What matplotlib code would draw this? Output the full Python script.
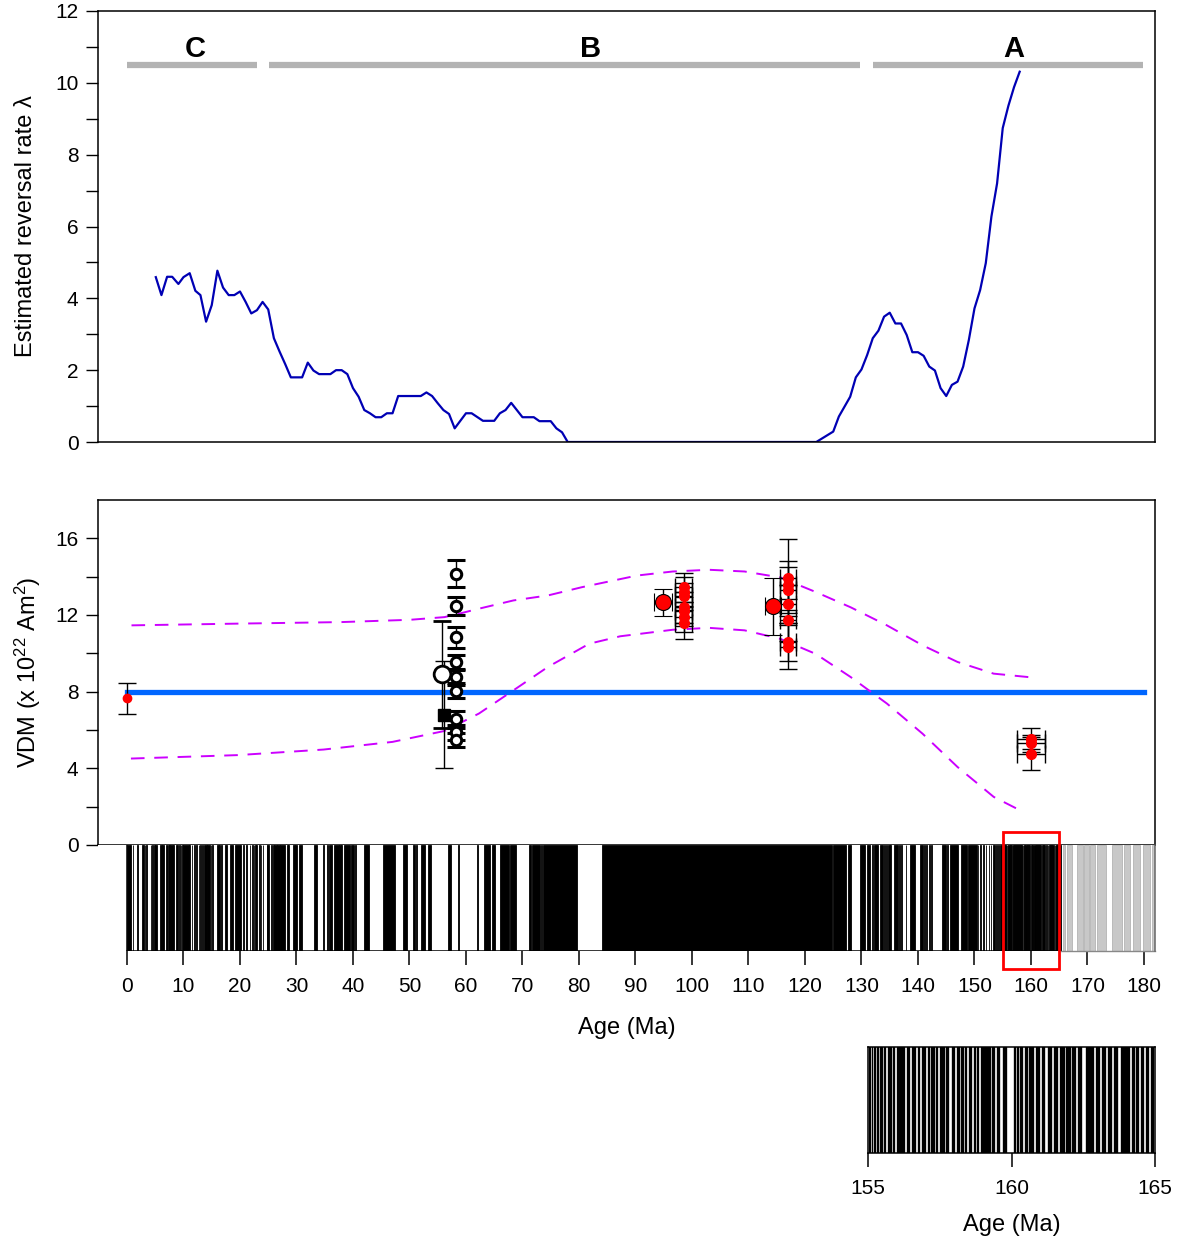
import matplotlib
matplotlib.use('Agg')
import matplotlib.pyplot as plt
from matplotlib.patches import Rectangle
from matplotlib.ticker import MultipleLocator, FixedLocator

plt.rcParams['font.family'] = ['Liberation Sans', 'DejaVu Sans']
plt.rcParams['mathtext.fontset'] = 'custom'
plt.rcParams['mathtext.rm'] = 'Liberation Sans'
plt.rcParams['mathtext.it'] = 'Liberation Sans:italic'

# --- top panel: estimated reversal rate ---
rate_age = [5.1, 6.1, 7.1, 8.0, 9.1, 10.0, 11.1, 12.1, 13.0, 14.0, 15.0, 16.0, 17.0, 18.0,
            19.0, 20.0, 21.0, 22.0, 23.0, 24.0, 25.0, 26.0, 27.0, 28.0, 29.0, 31.0, 32.0,
            33.0, 34.0, 36.0, 37.0, 38.0, 39.0, 40.0, 41.0, 42.0, 43.0, 44.0, 45.0, 46.0,
            47.0, 48.0, 52.0, 53.0, 54.0, 55.0, 56.0, 57.0, 58.0, 60.0, 61.0, 63.0, 65.0,
            66.0, 67.0, 68.0, 69.0, 70.0, 72.0, 73.0, 75.0, 76.0, 77.0, 78.0, 122.0, 125.0,
            126.0, 128.0, 129.0, 130.0, 131.0, 132.0, 133.0, 134.0, 135.0, 136.0, 137.0,
            138.0, 139.0, 140.0, 141.0, 142.0, 143.0, 144.0, 145.0, 146.0, 147.0, 148.0,
            149.0, 150.0, 151.0, 152.0, 153.0, 154.0, 155.0, 156.0, 157.0, 158.0]
rate_val = [4.59, 4.09, 4.6, 4.6, 4.4, 4.59, 4.7, 4.21, 4.09, 3.35, 3.81, 4.77, 4.3, 4.09,
            4.09, 4.19, 3.9, 3.58, 3.67, 3.9, 3.69, 2.89, 2.52, 2.17, 1.8, 1.8, 2.21,
            1.99, 1.89, 1.89, 2.0, 2.0, 1.89, 1.5, 1.26, 0.89, 0.8, 0.69, 0.69, 0.8,
            0.8, 1.28, 1.28, 1.38, 1.28, 1.08, 0.89, 0.78, 0.38, 0.8, 0.8, 0.59, 0.59,
            0.8, 0.89, 1.09, 0.89, 0.69, 0.69, 0.58, 0.58, 0.38, 0.27, 0.0, 0.0, 0.29,
            0.71, 1.26, 1.8, 2.02, 2.42, 2.89, 3.1, 3.49, 3.6, 3.3, 3.3,
            2.98, 2.5, 2.5, 2.4, 2.1, 1.99, 1.5, 1.28, 1.59, 1.68, 2.1,
            2.84, 3.72, 4.23, 4.98, 6.28, 7.2, 8.74, 9.36, 9.88, 10.31]

seg_names = ['C', 'B', 'A']
seg_start = [0.0, 25.1, 132.0]
seg_end = [23.0, 129.7, 179.8]
seg_mid = [12.0, 82.0, 157.0]

# --- bottom panel: VDM data ---
vdm_mean = 8.0
upper_age = [0.8, 19.6, 37.9, 50.1, 56.2, 59.2, 62.3, 68.4, 74.5, 80.5, 90.3, 96.6, 103.0,
             109.3, 115.6, 121.9, 128.1, 134.5, 140.8, 147.0, 153.4, 160.6]
upper_val = [11.46, 11.55, 11.63, 11.75, 11.89, 12.1, 12.33, 12.76, 13.02, 13.45, 14.06,
             14.27, 14.36, 14.27, 13.96, 13.2, 12.4, 11.46, 10.42, 9.55, 8.94, 8.73]
lower_age = [0.7, 19.6, 34.8, 47.0, 56.2, 62.3, 68.4, 74.5, 81.8, 87.3, 96.6, 103.0,
             109.3, 115.6, 121.9, 128.1, 134.5, 140.8, 147.0, 153.4, 158.8]
lower_val = [4.51, 4.69, 4.98, 5.38, 5.95, 6.86, 8.07, 9.29, 10.5, 10.89, 11.23, 11.33,
             11.2, 10.76, 9.97, 8.76, 7.38, 5.81, 4.07, 2.51, 1.70]

# open circles near 58 Ma
open_age = 58.2
open_vdm = [14.15, 12.47, 10.85, 9.55, 8.75, 8.05, 6.56, 5.87, 5.47]
open_err = [0.7, 0.45, 0.55, 0.35, 0.4, 0.4, 0.45, 0.4, 0.35]
# large open circle and black square
big_open = (55.8, 8.9, 2.8)
square = (56.1, 6.8, 2.8)
# present-day red dot
present = (0.0, 7.66, 0.8)
# large red circles (age, vdm, age err, vdm err)
big_red_age = [94.9, 114.3]
big_red_vdm = [12.66, 12.45]
big_red_xerr = [1.6, 1.4]
big_red_yerr = [0.7, 1.5]
# red clusters
red98_vdm = [13.45, 13.2, 12.97, 12.4, 12.2, 11.9, 11.6]
red98_err = [0.75, 0.8, 0.7, 0.8, 0.75, 0.8, 0.85]
red117_vdm = [13.94, 13.54, 13.28, 12.59, 11.75, 10.59, 10.33]
red117_err = [2.0, 1.3, 1.2, 1.0, 1.1, 1.0, 1.15]
red160_vdm = [5.55, 5.3, 4.77]
red160_err = [0.53, 0.45, 0.87]

# --- polarity timescale: normal intervals (young, old), Ma ---
chrons_0_45 = [(0.00, 0.78), (0.99, 1.07), (1.77, 1.95), (2.58, 3.04), (3.11, 3.22), (3.33, 3.58),
               (4.18, 4.29), (4.48, 4.62), (4.80, 4.89), (4.98, 5.23), (5.89, 6.14), (6.27, 6.57),
               (6.94, 7.09), (7.14, 7.17), (7.34, 7.38), (7.43, 7.56), (7.65, 8.07), (8.23, 8.26),
               (8.70, 9.03), (9.23, 9.31), (9.58, 9.64), (9.74, 9.88), (9.92, 10.95), (11.05, 11.10),
               (11.48, 11.53), (11.94, 12.08), (12.18, 12.40), (12.78, 12.82), (12.99, 13.14),
               (13.30, 13.51), (13.70, 14.08), (14.18, 14.61), (14.80, 14.89), (15.03, 15.16),
               (16.01, 16.29), (16.33, 16.49), (16.56, 16.73), (17.28, 17.62), (18.28, 18.78),
               (19.05, 20.13), (20.52, 20.73), (21.00, 21.32), (21.77, 21.86), (22.15, 22.25),
               (22.46, 22.49), (22.59, 22.75), (22.80, 23.07), (23.35, 23.54), (23.68, 23.80),
               (24.00, 24.12), (24.73, 24.78), (24.84, 25.18), (25.50, 25.65), (25.82, 25.95),
               (25.99, 26.55), (26.57, 27.03), (27.05, 27.97), (28.28, 28.51), (28.58, 28.75),
               (29.40, 29.66), (29.77, 30.10), (30.48, 30.94), (33.06, 33.55), (34.66, 34.94),
               (35.34, 35.53), (35.69, 36.34), (36.62, 37.47), (37.60, 37.85), (37.92, 38.11),
               (38.43, 39.55), (39.63, 40.13), (40.4, 40.6), (41.9, 42.9)]
chrons_45_125 = [(45.4, 47.4), (48.8, 49.5), (50.7, 51.0), (51.1, 51.4), (52.0, 52.7),
                 (53.3, 53.8), (56.9, 57.3), (58.5, 58.8), (61.9, 62.2), (63.2, 64.25),
                 (64.55, 65.1), (66.0, 67.7), (67.8, 68.85), (71.15, 71.45), (71.6, 73.1),
                 (73.3, 73.4), (73.65, 79.6), (84.0, 124.7)]
chrons_125_155 = [(125.0, 127.3), (127.6, 128.1), (129.7, 130.7), (130.9, 131.5), (131.8, 132.0),
                  (132.3, 132.9), (133.2, 133.8), (133.9, 134.1), (134.3, 134.5), (134.7, 135.0),
                  (135.1, 135.3), (135.7, 136.5), (136.6, 136.8), (136.95, 137.1), (137.8, 137.9),
                  (138.5, 139.4), (140.3, 140.9), (141.1, 141.3), (141.5, 141.6), (141.9, 142.1),
                  (142.3, 142.5), (144.2, 145.0), (145.2, 145.4), (145.6, 147.1), (147.7, 148.6),
                  (148.9, 150.4), (150.6, 150.7), (151.0, 151.15), (151.5, 151.6), (152.0, 152.1),
                  (152.5, 152.65), (152.9, 153.0), (153.3, 153.6), (153.8, 154.0), (154.15, 154.4),
                  (154.6, 154.8)]
chrons_155_165 = [(155.04, 155.09), (155.13, 155.18), (155.22, 155.28), (155.31, 155.39),
                  (155.43, 155.52), (155.55, 155.62), (155.68, 155.84), (155.87, 155.93),
                  (156.02, 156.30), (156.37, 156.47), (156.54, 156.66), (156.74, 156.82),
                  (156.89, 157.01), (157.08, 157.17), (157.21, 157.33), (157.36, 157.45),
                  (157.52, 157.68), (157.73, 157.82), (157.92, 158.04), (158.10, 158.20),
                  (158.25, 158.33), (158.37, 158.45), (158.51, 158.63), (158.68, 158.78),
                  (158.81, 158.88), (158.92, 159.27), (159.32, 159.44), (159.49, 159.60),
                  (159.72, 159.83), (160.07, 160.14), (160.19, 160.27), (160.31, 160.40),
                  (160.47, 160.57), (160.62, 160.80), (160.87, 161.00), (161.05, 161.18),
                  (161.27, 161.41), (161.47, 161.62), (161.68, 161.85), (161.91, 162.08),
                  (162.12, 162.26), (162.32, 162.45), (162.58, 162.89), (162.95, 163.08),
                  (163.17, 163.30), (163.35, 163.49), (163.57, 163.70), (163.80, 164.14),
                  (164.20, 164.30), (164.34, 164.45), (164.51, 164.63), (164.68, 164.80),
                  (164.85, 164.96), (165.03, 165.25)]
chrons_quiet = [(165.6, 166.0), (166.3, 167.2), (168.1, 169.2), (169.4, 170.2), (170.5, 171.3),
                (171.6, 173.3), (174.3, 176.1), (176.4, 177.5), (178.0, 179.3), (179.9, 181.1),
                (181.4, 182.0)]

XLIM = (-5.13, 181.95)
FS_TICK = 15
FS_LAB = 17

fig = plt.figure(figsize=(11.78, 12.36), dpi=100)
ax1 = fig.add_axes([98/1178, 1-442/1236, 1057/1178, 431/1236])
ax2 = fig.add_axes([98/1178, 1-845/1236, 1057/1178, 345/1236])
ax3 = fig.add_axes([98/1178, 1-951/1236, 1057/1178, 106/1236])
ax4 = fig.add_axes([868/1178, 1-1153/1236, 287/1178, 106/1236])

# top panel
for i in range(3):
    ax1.plot([seg_start[i], seg_end[i]], [10.5, 10.5], color='#b3b3b3', lw=4.5, solid_capstyle='butt')
    ax1.text(seg_mid[i], 10.95, seg_names[i], ha='center', va='center', fontsize=21, fontweight='bold')
ax1.plot(rate_age, rate_val, color='#0000b4', lw=1.6)
ax1.set_xlim(XLIM)
ax1.set_ylim(0, 12)
ax1.set_xticks([])
ax1.yaxis.set_major_locator(MultipleLocator(2))
ax1.yaxis.set_minor_locator(MultipleLocator(1))
ax1.tick_params(axis='y', which='both', direction='out', length=9, width=1, labelsize=FS_TICK, pad=5)
ax1.set_ylabel('Estimated reversal rate λ', fontsize=FS_LAB, labelpad=13)

# VDM panel
ax2.plot([0, 180], [vdm_mean, vdm_mean], color='#0066ff', lw=3.8, zorder=2)
ax2.plot(upper_age, upper_val, color='#cc00ff', lw=1.4, dashes=(7, 5), zorder=2)
ax2.plot(lower_age, lower_val, color='#cc00ff', lw=1.4, dashes=(7, 5), zorder=2)

eb = dict(ecolor='k', elinewidth=1.0, capsize=6.5, capthick=1.0, linestyle='none', zorder=3)
ax2.errorbar(present[0], present[1], yerr=present[2], fmt='o', ms=6, mfc='red', mec='red', **eb)
ax2.errorbar(big_open[0], big_open[1], yerr=big_open[2], fmt='o', ms=12, mfc='white',
             mec='k', mew=2, **eb)
ax2.errorbar(square[0], square[1], yerr=square[2], fmt='s', ms=8, mfc='k', mec='k', **eb)
ax2.errorbar([open_age] * len(open_vdm), open_vdm, yerr=open_err, fmt='o', ms=7.5,
             mfc='white', mec='k', mew=2.2, **eb)
ax2.errorbar([98.5] * len(red98_vdm), red98_vdm, yerr=red98_err, xerr=1.5, fmt='o', ms=7,
             mfc='red', mec='red', **eb)
ax2.errorbar([117.0] * len(red117_vdm), red117_vdm, yerr=red117_err, xerr=1.4, fmt='o', ms=7,
             mfc='red', mec='red', **eb)
ax2.errorbar([160.0] * len(red160_vdm), red160_vdm, yerr=red160_err, xerr=2.5, fmt='o', ms=7,
             mfc='red', mec='red', **eb)
ax2.errorbar(big_red_age, big_red_vdm, yerr=big_red_yerr, xerr=big_red_xerr, fmt='o', ms=11.5,
             mfc='red', mec='k', mew=0.8, **eb)
ax2.set_xlim(XLIM)
ax2.set_ylim(0, 18)
ax2.set_xticks([])
ax2.yaxis.set_major_locator(FixedLocator([0, 4, 8, 12, 16]))
ax2.yaxis.set_minor_locator(FixedLocator([2, 6, 10, 14]))
ax2.tick_params(axis='y', which='both', direction='out', length=9, width=1, labelsize=FS_TICK, pad=5)
ax2.set_ylabel('VDM (x 10$^{22}$ Am$^{2}$)', fontsize=FS_LAB, labelpad=9)
for a in (ax1, ax2):
    for s in a.spines.values():
        s.set_linewidth(1.1)


def draw_chrons(ax, chrons, color, edge, lw):
    starts = [c[0] for c in chrons]
    widths = [c[1] - c[0] for c in chrons]
    ax.bar(starts, 1, width=widths, align='edge', color=color, edgecolor=edge, linewidth=lw)


for ax, elw in ((ax3, 0.6), (ax4, 0.25)):
    for lst in (chrons_0_45, chrons_45_125, chrons_125_155, chrons_155_165):
        draw_chrons(ax, lst, 'k', 'k', elw)
    draw_chrons(ax, chrons_quiet, '#c8c8c8', '#b4b4b4', elw)
    ax.set_ylim(0, 1)
    ax.set_yticks([])
    ax.tick_params(axis='x', direction='out', length=10, width=1.1, labelsize=FS_TICK, pad=9)

# main bar
ax3.set_xlim(XLIM)
for s in ax3.spines.values():
    s.set_visible(False)
ax3.plot([0, 0], [0, 1], color='k', lw=1.1)
ax3.plot([0, 165.3], [0, 0], color='k', lw=1.1)
ax3.plot([165.3, 182], [0, 0], color='#888888', lw=1.0, clip_on=False)
ax3.plot([181.95, 181.95], [0, 1], color='#666666', lw=1.1, clip_on=False)
ax3.set_xticks(range(0, 181, 10))
ax3.set_xlabel('Age (Ma)', fontsize=FS_LAB, labelpad=15)
ax3.add_patch(Rectangle((155, -0.17), 10, 1.29, fill=False, ec='red', lw=2, zorder=10, clip_on=False))

# inset bar
ax4.set_xlim(155, 165)
ax4.set_xticks([155, 160, 165])
ax4.set_xlabel('Age (Ma)', fontsize=FS_LAB, labelpad=11)
for s in ax4.spines.values():
    s.set_linewidth(1.1)

fig.savefig('out.png', dpi=100)
